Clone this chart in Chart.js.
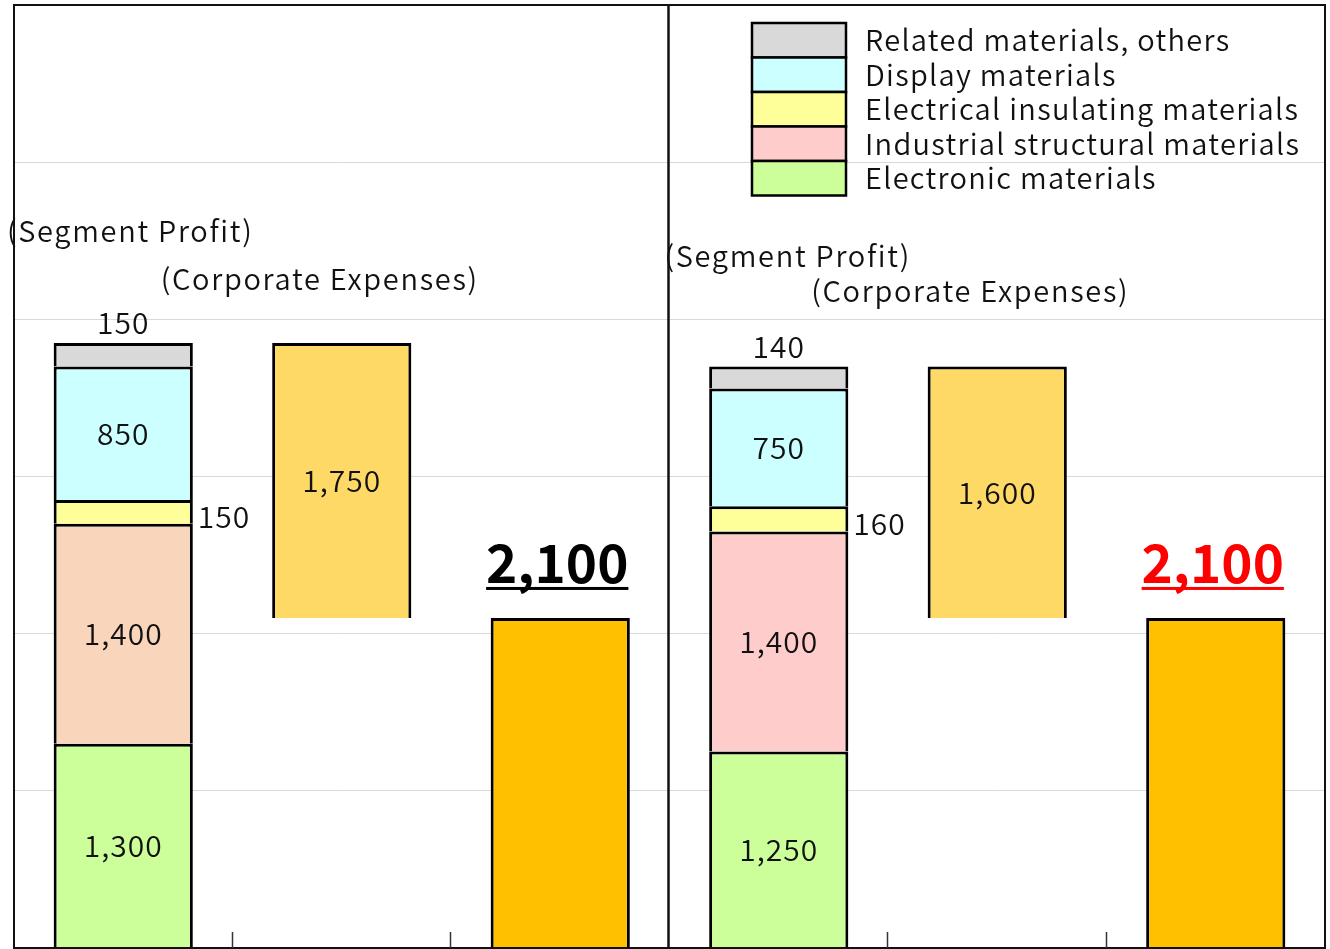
<!DOCTYPE html>
<html>
<head>
<meta charset="utf-8">
<script src="https://cdn.jsdelivr.net/npm/chart.js@4"></script>
<style>
  html, body { margin: 0; padding: 0; background: #fff; }
  #chart { position: absolute; left: 0; top: 0; }
</style>
</head>
<body>
<canvas id="chart" width="1330" height="949"></canvas>
<script>
// categorias (duas metades: esquerda e direita)
const categories = ["Segment Profit", "Corporate Expenses", "Total", "Segment Profit", "Corporate Expenses", "Total"];

// valores dos segmentos
const electronic = [1300, null, null, 1250, null, null];
const industrial = [1400, null, null, 1400, null, null];
const insulating = [150, null, null, 160, null, null];
const display = [850, null, null, 750, null, null];
const related = [150, null, null, 140, null, null];
const corporateExpenses = [null, 1750, null, null, 1600, null];
const totals = [null, null, 2100, null, null, 2100];

const yTicks = [0, 1000, 2000, 3000, 4000, 5000, 6000];

const FONT = "'Noto Sans CJK JP', 'Noto Sans', sans-serif";
const fmt = v => v.toLocaleString("en-US");

// barra flutuante das despesas: do total até total + despesas
const corporateBars = corporateExpenses.map((v, i) =>
  v == null ? null : [totals[i + 1], totals[i + 1] + v]);

const segmentSets = [
  { label: "Electronic materials", data: electronic, backgroundColor: "#ccff99" },
  { label: "Industrial structural materials", data: industrial,
    backgroundColor: ["#f8d5bb", null, null, "#ffcccc", null, null], legendColor: "#ffcccc" },
  { label: "Electrical insulating materials", data: insulating, backgroundColor: "#ffff99" },
  { label: "Display materials", data: display, backgroundColor: "#ccffff" },
  { label: "Related materials, others", data: related, backgroundColor: "#d9d9d9" }
];

const labelsPlugin = {
  id: "labels",
  afterDatasetsDraw(chart) {
    const { ctx, chartArea: a, scales: { x, y } } = chart;
    const cx = i => x.getPixelForValue(i);
    const half = (cx(1) - cx(0)) / 2;
    const barW = (cx(1) - cx(0)) * 0.627;
    ctx.save();

    // moldura das duas metades
    const mid = (cx(2) + cx(3)) / 2 - 1;
    ctx.strokeStyle = "#111";
    ctx.lineWidth = 2;
    ctx.strokeRect(a.left, a.top, mid - a.left, a.bottom - a.top);
    ctx.strokeRect(mid, a.top, a.right - mid, a.bottom - a.top);

    // marcas do eixo x
    ctx.lineWidth = 1.5;
    ctx.strokeStyle = "#333";
    [0, 1, 3, 4].forEach(i => {
      const px = Math.round(cx(i) + half) - 0.5;
      ctx.beginPath();
      ctx.moveTo(px, a.bottom);
      ctx.lineTo(px, a.bottom - 16);
      ctx.stroke();
    });

    ctx.fillStyle = "#111";
    ctx.textAlign = "center";
    ctx.textBaseline = "middle";
    ctx.font = "350 30px " + FONT;
    ctx.letterSpacing = "1px";

    [0, 3].forEach(i => {
      let base = 0;
      const stackVals = [electronic[i], industrial[i], insulating[i], display[i], related[i]];
      stackVals.forEach((v, k) => {
        const top = base + v;
        const midPx = (y.getPixelForValue(base) + y.getPixelForValue(top)) / 2;
        if (k === 2) {
          ctx.textAlign = "left";
          ctx.fillText(fmt(v), cx(i) + barW / 2 + 6, midPx + 5);
          ctx.textAlign = "center";
        } else if (k === 4) {
          ctx.fillText(fmt(v), cx(i), y.getPixelForValue(top) - 20);
        } else {
          ctx.fillText(fmt(v), cx(i), midPx);
        }
        base = top;
      });
    });

    [1, 4].forEach(i => {
      const b = corporateBars[i];
      ctx.fillText(fmt(corporateExpenses[i]), cx(i), (y.getPixelForValue(b[0]) + y.getPixelForValue(b[1])) / 2);
    });

    // totais em destaque, sublinhados
    ctx.letterSpacing = "0px";
    [[2, "#000"], [5, "#ff0000"]].forEach(([i, col]) => {
      ctx.font = "bold 53px " + FONT;
      ctx.fillStyle = col;
      const txt = fmt(totals[i]);
      const ty = y.getPixelForValue(totals[i]) - 55;
      ctx.fillText(txt, cx(i) - 3, ty);
      const w = ctx.measureText(txt).width;
      ctx.fillRect(cx(i) - 3 - w / 2, ty + 24, w, 3);
    });

    // anotações
    ctx.font = "350 29px " + FONT;
    ctx.letterSpacing = "1.7px";
    ctx.fillStyle = "#111";
    ctx.fillText("(Segment Profit)", cx(0) + 7, y.getPixelForValue(4562));
    ctx.fillText("(Corporate Expenses)", cx(1) - 22, y.getPixelForValue(4257));
    ctx.fillText("(Segment Profit)", cx(3) + 9, y.getPixelForValue(4403));
    ctx.fillText("(Corporate Expenses)", cx(4) - 27, y.getPixelForValue(4180));

    // legenda
    const lx = a.right - 573, ly = a.top + 18, bw = 94, bh = 34.5;
    ctx.textAlign = "left";
    ctx.font = "350 29px " + FONT;
    ctx.letterSpacing = "1.3px";
    segmentSets.slice().reverse().forEach((s, k) => {
      const top = ly + k * bh;
      ctx.fillStyle = s.legendColor || s.backgroundColor;
      ctx.fillRect(lx, top, bw, bh);
      ctx.strokeStyle = "#000";
      ctx.lineWidth = 2.5;
      ctx.strokeRect(lx, top, bw, bh);
      ctx.fillStyle = "#111";
      ctx.fillText(s.label, lx + 113, top + bh / 2);
    });
    ctx.restore();
  }
};

new Chart(document.getElementById("chart"), {
  type: "bar",
  data: {
    labels: categories,
    datasets: [
      ...segmentSets.map(s => ({ ...s, borderColor: "#000", borderWidth: 3 })),
      { label: "Corporate Expenses", data: corporateBars, backgroundColor: "#ffd966", borderColor: "#000", borderWidth: 3 },
      { label: "Total", data: totals, backgroundColor: "#ffc000", borderColor: "#000", borderWidth: 3 }
    ]
  },
  options: {
    responsive: false,
    animation: false,
    devicePixelRatio: 1,
    layout: { padding: { left: 14, top: 5, right: 5, bottom: 1 } },
    datasets: { bar: { categoryPercentage: 1, barPercentage: 0.637 } },
    plugins: { legend: { display: false }, tooltip: { enabled: false } },
    scales: {
      x: {
        stacked: true,
        ticks: { display: false },
        grid: { display: false, drawTicks: false },
        border: { display: false }
      },
      y: {
        stacked: true,
        min: yTicks[0],
        max: yTicks[yTicks.length - 1],
        afterBuildTicks: s => { s.ticks = yTicks.map(v => ({ value: v })); },
        ticks: { display: false },
        grid: { color: "#d9d9d9", lineWidth: 1, drawTicks: false },
        border: { display: false }
      }
    }
  },
  plugins: [labelsPlugin]
});
</script>
</body>
</html>
